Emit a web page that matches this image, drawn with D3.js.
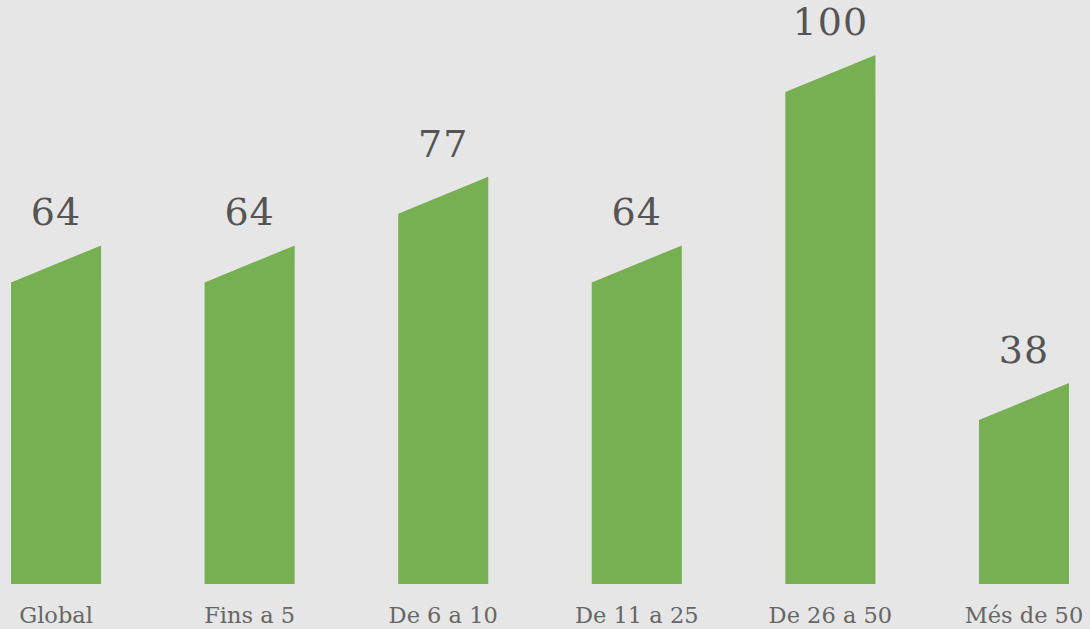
<!DOCTYPE html>
<html>
<head>
<meta charset="utf-8">
<script src="https://cdn.jsdelivr.net/npm/d3@7"></script>
<style>
  html, body { margin: 0; padding: 0; background: #e6e6e6; }
  svg { display: block; }
</style>
</head>
<body>
<div id="chart-area"></div>
<script>

var width = 1090,
    height = 629;

// Data
var categories = ["Global", "Fins a 5", "De 6 a 10", "De 11 a 25", "De 26 a 50", "Més de 50"];
var values = [64, 64, 77, 64, 100, 38];

var slant = 37;

var svg = d3.select("#chart-area").append("svg")
    .attr("width", width)
    .attr("height", height);

svg.append("rect")
    .attr("width", width)
    .attr("height", height)
    .attr("fill", "#e6e6e6");

var x = d3.scaleBand()
    .domain(categories)
    .range([11, 1069])
    .paddingInner(0.5346)
    .paddingOuter(0);

var y = d3.scaleLinear()
    .domain([0, 100])
    .range([584, 55]);

var data = categories.map(function(c, i) { return {cat: c, value: values[i]}; });

// Bars with slanted top (right side higher)
svg.selectAll(".bar")
    .data(data)
    .enter().append("path")
    .attr("class", "bar")
    .attr("fill", "#77b052")
    .attr("d", function(d) {
        var x0 = x(d.cat), x1 = x0 + x.bandwidth();
        var top = y(d.value);
        return "M" + x0 + "," + y(0) +
            "L" + x0 + "," + (top + slant) +
            "L" + x1 + "," + top +
            "L" + x1 + "," + y(0) + "Z";
    });

// Value labels
svg.selectAll(".value")
    .data(data)
    .enter().append("text")
    .attr("class", "value")
    .attr("x", function(d) { return x(d.cat) + x.bandwidth() / 2; })
    .attr("y", function(d) { return y(d.value) - 20; })
    .attr("text-anchor", "middle")
    .attr("font-family", "'DejaVu Serif', serif")
    .attr("font-size", 38)
    .attr("letter-spacing", 1)
    .attr("fill", "#555555")
    .text(function(d) { return d.value; });

// Category labels
svg.selectAll(".cat")
    .data(data)
    .enter().append("text")
    .attr("class", "cat")
    .attr("x", function(d) { return x(d.cat) + x.bandwidth() / 2; })
    .attr("y", 623)
    .attr("text-anchor", "middle")
    .attr("font-family", "'DejaVu Serif', serif")
    .attr("font-size", 22.5)
    .attr("fill", "#666666")
    .text(function(d) { return d.cat; });

</script>
</body>
</html>
